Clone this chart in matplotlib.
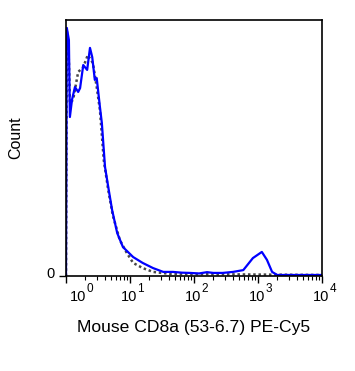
"""
Flow cytometry histogram: Mouse CD8a (53-6.7) PE-Cy5 stained vs. control.
"""

import matplotlib
matplotlib.use('Agg')
import matplotlib.pyplot as plt
from matplotlib.transforms import ScaledTranslation

plt.rcParams['font.family'] = ['Liberation Sans', 'DejaVu Sans']

# Stained sample (blue), fluorescence intensity vs % of max
stained_x = [1.0, 1.03, 1.11, 1.15, 1.24, 1.38, 1.55, 1.66, 1.86, 2.14, 2.37, 2.57,
             2.82, 3.02, 3.39, 3.63, 4.07, 4.57, 5.25, 6.31, 7.76, 11.2, 15.8,
             22.9, 33.1, 46.8, 65.0, 87.0, 120, 160, 200, 280, 407, 589, 832,
             1148, 1380, 1660, 1995, 3000, 10000]
stained_y = [0.0, 96.9, 92.2, 62.1, 68.8, 73.8, 71.9, 73.4, 82.4, 80.5, 89.1, 85.5,
             76.6, 77.3, 66.0, 59.8, 42.6, 34.8, 25.8, 16.8, 11.3, 7.4, 5.1,
             3.1, 1.6, 1.6, 1.3, 1.2, 1.0, 1.5, 1.2, 1.2, 1.6, 2.3, 7.0,
             9.4, 6.3, 1.6, 0.4, 0.4, 0.4]

# Unstained control (gray dotted)
control_x = [1.0, 1.03, 1.11, 1.15, 1.29, 1.55, 1.86, 2.19, 2.63, 3.02, 3.39, 3.89,
             4.57, 5.37, 6.92, 8.91, 11.2, 15.8, 22.9, 42.7, 10000]
control_y = [0.0, 96.0, 84.0, 67.6, 68.8, 79.7, 81.6, 86.3, 83.2, 73.8, 64.8, 45.3,
             33.6, 23.8, 14.1, 9.0, 5.1, 3.1, 1.6, 0.8, 0.4]

x_ticks = [1, 10, 100, 1000, 10000]
x_tick_exponents = ['0', '1', '2', '3', '4']


def px_offset(fig, dx, dy):
    # offset in pixels (dpi = 100)
    return ScaledTranslation(dx / 100, dy / 100, fig.dpi_scale_trans)


def main():
    fig = plt.figure(figsize=(3.55, 3.71), dpi=100)
    ax = fig.add_axes([66 / 355, 1 - 276 / 371, 256 / 355, 256 / 371])

    ax.plot(control_x, control_y, color='#484848', linestyle=(0, (1, 1.1)), linewidth=1.8)
    ax.plot(stained_x, stained_y, color='#0000ff', linewidth=1.6)

    ax.set_xscale('log')
    ax.set_xlim(1, 10000)
    ax.set_ylim(0, 100)

    # Ticks
    ax.set_xticks(x_ticks)
    ax.set_xticklabels([])
    ax.tick_params(axis='x', which='major', direction='out', length=5, width=1)
    ax.tick_params(axis='x', which='minor', direction='out', length=3.2, width=0.8)
    ax.set_yticks([0])
    ax.set_yticklabels(['0'], fontsize=10.5)
    ax.tick_params(axis='y', direction='out', length=5, width=1, pad=3)
    for lbl in ax.get_yticklabels():
        lbl.set_transform(lbl.get_transform() + px_offset(fig, 0, 4))

    # 10^n labels drawn as base + raised exponent
    xtrans = ax.get_xaxis_transform()
    for i, (t, e) in enumerate(zip(x_ticks, x_tick_exponents)):
        dx = 4 if i == 0 else -9
        ax.text(t, 0, '10', fontsize=10.5, ha='left', va='baseline',
                transform=xtrans + px_offset(fig, dx, -25), clip_on=False)
        ax.text(t, 0, e, fontsize=8.5, ha='left', va='baseline',
                transform=xtrans + px_offset(fig, dx + 16.5, -16), clip_on=False)

    for side in ['left', 'right', 'top', 'bottom']:
        ax.spines[side].set_linewidth(1.2)

    ax.set_xlabel('Mouse CD8a (53-6.7) PE-Cy5', fontsize=12.6)
    ax.xaxis.set_label_coords(0.5, -(332 - 276) / 256)
    ax.xaxis.label.set_va('baseline')
    ax.set_ylabel('Count', fontsize=11.5)
    ax.yaxis.set_label_coords(-(66 - 23) / 256, (276 - 138) / 256)

    fig.savefig('out.png', dpi=100)


if __name__ == '__main__':
    main()
